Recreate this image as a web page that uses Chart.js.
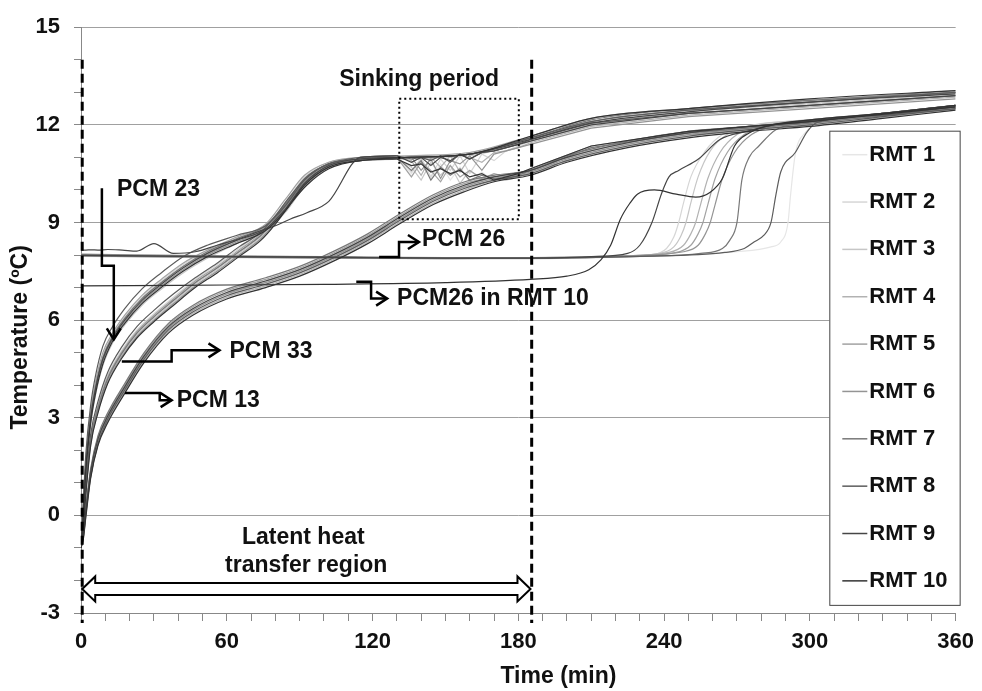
<!DOCTYPE html>
<html>
<head>
<meta charset="UTF-8">
<title>RMT temperature</title>
<style>
    body { margin: 0; background: #fff; }
    #wrap { width: 982px; height: 691px; position: relative; }
</style>
</head>
<body>
<div id="wrap"><canvas id="tempChart"></canvas></div>
<script src="https://cdn.jsdelivr.net/npm/chart.js"></script>
<script>
    const rmtNames = ['RMT 1', 'RMT 2', 'RMT 3', 'RMT 4', 'RMT 5', 'RMT 6', 'RMT 7', 'RMT 8', 'RMT 9', 'RMT 10'];

    // PCM 23 sensors (fastest melt)
    const pcm23Times = [0, 1, 2, 4, 6, 9, 13, 18, 25, 33, 42, 52, 64, 76, 84, 92, 102, 115, 135, 160, 185, 210, 250, 300, 360];
    const pcm23Temps = [
        [-1.0, 0.1, 1.4, 2.9, 3.8, 4.7, 5.4, 5.95, 6.55, 7.05, 7.55, 8.0, 8.4, 8.8, 9.4, 10.2, 10.75, 10.95, 11.0, 11.1, 11.6, 12.15, 12.5, 12.75, 13.05],
        [-1.0, 0.3, 1.6, 3.1, 4.0, 4.9, 5.55, 6.1, 6.7, 7.2, 7.7, 8.1, 8.5, 8.9, 9.6, 10.4, 10.85, 11.0, 11.05, 11.15, 11.55, 12.05, 12.4, 12.65, 12.95],
        [-1.0, 0.0, 1.3, 2.8, 3.7, 4.6, 5.3, 5.85, 6.45, 6.95, 7.45, 7.9, 8.35, 8.75, 9.3, 10.1, 10.7, 10.9, 10.95, 11.05, 11.5, 12.0, 12.4, 12.65, 12.95],
        [-1.0, 0.2, 1.5, 3.0, 3.95, 4.85, 5.5, 6.05, 6.65, 7.15, 7.65, 8.05, 8.45, 8.85, 9.5, 10.3, 10.8, 10.95, 11.0, 11.1, 11.6, 12.1, 12.45, 12.7, 13.0],
        [-1.0, 0.4, 1.7, 3.2, 4.1, 5.0, 5.6, 6.15, 6.75, 7.25, 7.75, 8.15, 8.55, 8.95, 9.7, 10.45, 10.85, 11.0, 11.05, 11.15, 11.65, 12.2, 12.5, 12.75, 13.05],
        [-1.0, 0.1, 1.45, 2.95, 3.85, 4.75, 5.4, 5.95, 6.55, 7.05, 7.55, 8.0, 8.4, 8.8, 9.45, 10.25, 10.75, 10.95, 11.0, 11.1, 11.55, 12.1, 12.45, 12.7, 13.0],
        [-1.0, 0.3, 1.55, 3.05, 3.95, 4.85, 5.5, 6.05, 6.65, 7.15, 7.65, 8.1, 8.5, 8.9, 9.55, 10.35, 10.8, 10.95, 11.0, 11.1, 11.6, 12.15, 12.5, 12.75, 13.0],
        [-1.0, 0.5, 1.9, 3.4, 4.3, 5.2, 5.8, 6.35, 6.95, 7.45, 7.95, 8.3, 8.6, 8.9, 9.5, 10.3, 10.8, 10.95, 11.0, 11.1, 11.6, 12.1, 12.45, 12.7, 13.0],
        [-1.0, 0.2, 1.5, 3.0, 3.9, 4.8, 5.45, 6.0, 6.6, 7.1, 7.6, 8.05, 8.45, 8.8, 9.4, 10.2, 10.75, 10.95, 11.0, 11.1, 11.55, 12.05, 12.4, 12.7, 12.95],
        [-1.0, 0.0, 1.35, 2.85, 3.75, 4.65, 5.35, 5.9, 6.5, 7.0, 7.5, 7.95, 8.35, 8.75, 9.35, 10.15, 10.7, 10.9, 11.0, 11.1, 11.65, 12.2, 12.5, 12.8, 13.05]
    ];

    // PCM 33 sensors, ragged through the sinking period (index 19 = 130 min)
    const pcm33Times = [0, 1, 2, 4, 7, 11, 17, 23, 30, 38, 47, 56, 65, 74, 80, 86, 93, 102, 115, 130, 136, 140, 144, 148, 152, 156, 160, 165, 170, 175, 180, 185, 210, 250, 300, 360];
    const pcm33Temps = [
        [-1.0, -0.3, 0.7, 2.2, 3.2, 4.1, 4.9, 5.5, 6.0, 6.5, 7.05, 7.5, 8.0, 8.5, 9.0, 9.6, 10.2, 10.7, 10.9, 11.0, 10.5, 10.95, 10.35, 10.8, 10.3, 10.7, 10.25, 10.55, 10.25, 10.4, 10.45, 10.6, 11.3, 11.75, 12.05, 12.5],
        [-1.0, -0.1, 0.9, 2.4, 3.4, 4.3, 5.1, 5.7, 6.2, 6.7, 7.25, 7.7, 8.2, 8.7, 9.2, 9.8, 10.4, 10.8, 11.0, 11.05, 10.55, 11.0, 10.4, 10.95, 10.6, 11.05, 10.5, 11.1, 10.9, 11.2, 11.35, 11.5, 12.0, 12.35, 12.6, 12.9],
        [-1.0, -0.25, 0.75, 2.25, 3.25, 4.15, 4.95, 5.55, 6.05, 6.55, 7.1, 7.55, 8.05, 8.55, 9.05, 9.65, 10.25, 10.7, 10.9, 10.95, 10.7, 10.3, 10.85, 10.45, 10.75, 10.2, 10.6, 10.3, 10.45, 10.3, 10.4, 10.55, 11.25, 11.7, 12.0, 12.45],
        [-1.0, -0.2, 0.8, 2.3, 3.3, 4.2, 5.0, 5.6, 6.1, 6.6, 7.15, 7.6, 8.1, 8.6, 9.1, 9.7, 10.3, 10.75, 10.95, 11.0, 10.9, 10.45, 11.0, 10.7, 11.05, 10.55, 11.0, 10.85, 11.15, 11.2, 11.3, 11.45, 11.95, 12.3, 12.55, 12.85],
        [-1.0, -0.15, 0.85, 2.35, 3.35, 4.25, 5.05, 5.65, 6.15, 6.65, 7.2, 7.65, 8.15, 8.65, 9.15, 9.75, 10.35, 10.75, 10.95, 11.0, 10.4, 10.85, 10.6, 10.25, 10.75, 10.4, 10.6, 10.35, 10.5, 10.4, 10.5, 10.65, 11.35, 11.8, 12.1, 12.5],
        [-1.0, -0.3, 0.7, 2.2, 3.2, 4.1, 4.9, 5.5, 6.0, 6.5, 7.05, 7.5, 8.0, 8.5, 9.0, 9.6, 10.2, 10.7, 10.9, 10.95, 11.0, 10.6, 10.95, 10.35, 10.9, 10.8, 11.05, 10.6, 11.1, 11.2, 11.3, 11.4, 11.9, 12.25, 12.5, 12.8],
        [-1.0, -0.2, 0.8, 2.3, 3.3, 4.2, 5.0, 5.6, 6.1, 6.6, 7.15, 7.6, 8.1, 8.6, 9.1, 9.7, 10.3, 10.75, 10.95, 11.0, 10.6, 10.9, 10.3, 10.7, 10.45, 10.65, 10.3, 10.45, 10.35, 10.35, 10.45, 10.6, 11.3, 11.75, 12.05, 12.5],
        [-1.0, 0.0, 1.0, 2.5, 3.5, 4.4, 5.2, 5.8, 6.3, 6.8, 7.3, 7.75, 8.25, 8.7, 9.2, 9.8, 10.4, 10.8, 11.0, 11.05, 10.95, 11.0, 10.9, 11.05, 10.85, 11.1, 10.95, 11.15, 11.2, 11.3, 11.4, 11.55, 12.05, 12.35, 12.6, 12.9],
        [8.15, 8.15, 8.15, 8.16, 8.15, 8.17, 8.15, 8.12, 8.35, 8.05, 8.1, 8.3, 8.5, 8.75, 8.9, 9.1, 9.3, 9.65, 11.0, 11.05, 10.85, 11.0, 10.75, 11.0, 10.9, 11.1, 10.95, 11.15, 11.2, 11.3, 11.4, 11.5, 12.0, 12.35, 12.6, 12.9],
        [-1.0, -0.35, 0.65, 2.15, 3.15, 4.05, 4.85, 5.45, 5.95, 6.45, 7.0, 7.45, 7.95, 8.45, 8.95, 9.55, 10.15, 10.65, 10.9, 10.95, 10.75, 10.8, 10.55, 10.65, 10.5, 10.6, 10.4, 10.5, 10.3, 10.4, 10.5, 10.65, 11.35, 11.8, 12.1, 12.55]
    ];
    const sinkStart = 19;

    // PCM 13 sensors (slowest)
    const pcm13Times = [0, 1, 2, 4, 7, 11, 18, 26, 36, 46, 60, 76, 90, 105, 118, 131, 145, 158, 170, 185, 200, 225, 250, 275, 300, 330, 360];
    const pcm13Temps = [
        [-1.0, -0.65, 0.05, 1.25, 2.25, 2.95, 3.85, 4.8, 5.7, 6.25, 6.75, 7.1, 7.45, 7.95, 8.45, 9.05, 9.65, 10.05, 10.3, 10.5, 10.9, 11.35, 11.65, 11.85, 12.0, 12.25, 12.5],
        [-1.0, -0.55, 0.15, 1.35, 2.35, 3.05, 3.95, 4.9, 5.8, 6.35, 6.85, 7.2, 7.55, 8.05, 8.55, 9.15, 9.75, 10.15, 10.4, 10.6, 11.0, 11.45, 11.75, 11.95, 12.1, 12.35, 12.6],
        [-1.0, -0.6, 0.1, 1.3, 2.3, 3.0, 3.9, 4.85, 5.75, 6.3, 6.8, 7.15, 7.5, 8.0, 8.5, 9.1, 9.7, 10.1, 10.35, 10.55, 10.95, 11.4, 11.7, 11.9, 12.05, 12.3, 12.55],
        [-1.0, -0.7, 0.0, 1.2, 2.2, 2.9, 3.8, 4.75, 5.65, 6.2, 6.7, 7.05, 7.4, 7.9, 8.4, 9.0, 9.6, 10.0, 10.3, 10.5, 10.9, 11.35, 11.65, 11.85, 12.0, 12.25, 12.5],
        [-1.0, -0.5, 0.2, 1.4, 2.4, 3.1, 4.0, 4.95, 5.85, 6.4, 6.9, 7.25, 7.6, 8.1, 8.6, 9.2, 9.8, 10.2, 10.4, 10.6, 11.0, 11.45, 11.75, 11.95, 12.1, 12.35, 12.6],
        [-1.0, -0.6, 0.1, 1.3, 2.3, 3.0, 3.9, 4.85, 5.75, 6.3, 6.8, 7.15, 7.5, 8.0, 8.5, 9.1, 9.7, 10.1, 10.35, 10.55, 10.95, 11.4, 11.7, 11.9, 12.05, 12.3, 12.55],
        [-1.0, -0.45, 0.25, 1.45, 2.45, 3.15, 4.05, 5.0, 5.9, 6.45, 6.95, 7.3, 7.65, 8.15, 8.65, 9.25, 9.85, 10.25, 10.45, 10.6, 11.05, 11.5, 11.8, 11.95, 12.1, 12.35, 12.6],
        [-1.0, -0.65, 0.05, 1.2, 2.2, 2.95, 3.85, 4.8, 5.7, 6.25, 6.75, 7.1, 7.45, 7.95, 8.45, 9.05, 9.65, 10.05, 10.3, 10.5, 10.9, 11.35, 11.65, 11.85, 12.0, 12.25, 12.5],
        [-1.0, -0.55, 0.15, 1.35, 2.35, 3.05, 3.95, 4.9, 5.8, 6.35, 6.85, 7.2, 7.55, 8.05, 8.55, 9.15, 9.75, 10.15, 10.4, 10.6, 11.0, 11.45, 11.75, 11.95, 12.1, 12.35, 12.6],
        [-1.0, -0.7, -0.05, 1.15, 2.15, 2.85, 3.75, 4.7, 5.6, 6.15, 6.65, 7.0, 7.35, 7.85, 8.35, 8.95, 9.55, 9.95, 10.25, 10.45, 10.85, 11.3, 11.6, 11.8, 11.95, 12.2, 12.45]
    ];

    // PCM 26 sensors: long plateau, late melt
    const pcm26Times = [
        [0, 40, 100, 150, 185, 230, 270, 284, 288, 291, 292, 294, 298, 306, 330, 360],
        [0, 40, 100, 150, 185, 215, 235, 241, 244, 246, 248, 251, 257, 264, 277, 300, 330, 360],
        [0, 40, 100, 150, 185, 215, 238, 244, 247, 249, 251, 254, 259, 266, 278, 300, 330, 360],
        [0, 40, 100, 150, 185, 220, 242, 248, 251, 253, 255, 258, 263, 270, 282, 300, 330, 360],
        [0, 40, 100, 150, 185, 220, 245, 251, 254, 256, 258, 261, 266, 273, 285, 300, 330, 360],
        [0, 40, 100, 150, 185, 225, 248, 254, 257, 259, 261, 264, 269, 276, 287, 300, 330, 360],
        [0, 40, 100, 150, 185, 230, 255, 264, 267, 270, 272, 275, 279, 286, 300, 330, 360],
        [0, 40, 100, 150, 185, 230, 265, 273, 277, 281, 284, 286, 288, 294, 299, 303, 330, 360],
        [0, 40, 100, 150, 185, 210, 225, 230, 235, 239, 242, 246, 254, 263, 274, 285, 310, 360],
        [0, 40, 100, 150, 185, 200, 209, 214, 218, 222, 226, 229, 236, 245, 253, 259, 264, 269, 275, 283, 300, 330, 360]
    ];
    const pcm26Temps = [
        [8.0, 7.97, 7.93, 7.9, 7.9, 7.95, 8.1, 8.25, 8.4, 9.0, 9.8, 11.1, 11.75, 12.05, 12.3, 12.6],
        [7.96, 7.93, 7.9, 7.88, 7.88, 7.93, 8.0, 8.2, 8.55, 9.0, 9.6, 10.4, 11.2, 11.7, 12.0, 12.15, 12.35, 12.6],
        [8.02, 7.98, 7.94, 7.9, 7.9, 7.95, 8.05, 8.25, 8.6, 9.0, 9.6, 10.4, 11.2, 11.7, 12.0, 12.15, 12.35, 12.55],
        [7.98, 7.95, 7.92, 7.9, 7.92, 7.97, 8.08, 8.3, 8.65, 9.0, 9.55, 10.35, 11.15, 11.7, 12.0, 12.15, 12.35, 12.6],
        [8.0, 7.96, 7.93, 7.9, 7.9, 7.96, 8.08, 8.3, 8.65, 9.0, 9.55, 10.35, 11.15, 11.7, 12.0, 12.15, 12.35, 12.6],
        [8.03, 7.99, 7.95, 7.92, 7.92, 7.98, 8.1, 8.3, 8.65, 9.0, 9.55, 10.35, 11.15, 11.7, 12.0, 12.15, 12.35, 12.55],
        [7.97, 7.94, 7.91, 7.89, 7.9, 7.96, 8.05, 8.2, 8.45, 9.0, 10.3, 11.0, 11.35, 11.85, 12.1, 12.35, 12.6],
        [8.0, 7.97, 7.94, 7.91, 7.91, 7.96, 8.08, 8.2, 8.4, 8.6, 9.0, 9.84, 10.55, 11.15, 11.8, 12.07, 12.3, 12.55],
        [7.99, 7.96, 7.93, 7.9, 7.9, 7.95, 8.05, 8.3, 9.0, 9.9, 10.4, 10.6, 10.94, 11.55, 11.8, 12.0, 12.2, 12.55],
        [7.05, 7.07, 7.1, 7.15, 7.25, 7.35, 7.55, 7.85, 8.3, 9.1, 9.6, 9.87, 10.0, 9.87, 9.78, 9.93, 10.35, 11.35, 11.75, 11.97, 12.15, 12.35, 12.6]
    ];

    const xTicks = [0, 60, 120, 180, 240, 300, 360];
    const yTicks = [-3, 0, 3, 6, 9, 12, 15];

    const rmtColors = ['#e6e6e6', '#d6d6d6', '#c6c6c6', '#b2b2b2', '#a2a2a2', '#949494', '#787878', '#5c5c5c', '#464646', '#333333'];
    const FONT = '"Liberation Sans", Arial, sans-serif';

    // start and end of the latent heat region
    const markerTimes = [0.5, 185.5];

    const callouts = [
        { text: 'PCM 23', at: [14.8, 10.02], path: [[8.6, 10.05], [8.6, 7.67], [13.5, 7.67], [13.5, 5.41]], head: 'down' },
        { text: 'PCM 33', at: [61.1, 5.04], path: [[16.8, 4.73], [37.3, 4.73], [37.3, 5.07], [57, 5.07]], head: 'right' },
        { text: 'PCM 13', at: [39.4, 3.51], path: [[18.1, 3.76], [32.4, 3.76], [32.4, 3.54], [37.3, 3.54]], head: 'right' },
        { text: 'PCM 26', at: [140.4, 8.46], path: [[122.7, 7.94], [130.9, 7.94], [130.9, 8.4], [139.1, 8.4]], head: 'right' },
        { text: 'PCM26 in RMT 10', at: [130.1, 6.66], path: [[113.3, 7.18], [119.4, 7.18], [119.4, 6.66], [126, 6.66]], head: 'right' }
    ];

    function toPoints(times, temps) {
        return times.map((t, i) => ({ x: t, y: temps[i] }));
    }

    const datasets = [];
    rmtNames.forEach((name, i) => {
        const line = (data, smooth) => ({
            label: name,
            data: data,
            showLine: true,
            borderColor: rmtColors[i],
            borderWidth: 1.2,
            pointRadius: 0,
            cubicInterpolationMode: smooth ? 'monotone' : 'default',
            tension: 0,
            order: 10 - i
        });
        const t33 = pcm33Times, v33 = pcm33Temps[i];
        datasets.push(line(toPoints(pcm23Times, pcm23Temps[i]), true));
        datasets.push(line(toPoints(t33.slice(0, sinkStart + 1), v33.slice(0, sinkStart + 1)), true));
        // the noisy part is drawn straight, point to point
        datasets.push(line(toPoints(t33.slice(sinkStart), v33.slice(sinkStart)), false));
        datasets.push(line(toPoints(pcm13Times, pcm13Temps[i]), true));
        datasets.push(line(toPoints(pcm26Times[i], pcm26Temps[i]), true));
    });

    const overlay = {
        id: 'overlay',
        afterDraw(chart) {
            const { ctx, chartArea: area, scales } = chart;
            const X = v => scales.x.getPixelForValue(v);
            const Y = v => scales.y.getPixelForValue(v);
            ctx.save();

            // dashed boundaries
            ctx.strokeStyle = '#000';
            ctx.lineWidth = 3;
            ctx.setLineDash([9, 5]);
            markerTimes.forEach(t => {
                ctx.beginPath();
                ctx.moveTo(X(t), Y(14));
                ctx.lineTo(X(t), area.bottom + 10);
                ctx.stroke();
            });

            // sinking period box
            ctx.lineWidth = 2;
            ctx.setLineDash([2, 3]);
            ctx.strokeRect(X(131), Y(12.8), X(180.2) - X(131), Y(9.1) - Y(12.8));
            ctx.setLineDash([]);

            ctx.fillStyle = '#111';
            ctx.font = 'bold 23px ' + FONT;
            ctx.textBaseline = 'middle';
            ctx.textAlign = 'left';
            ctx.fillText('Sinking period', X(106.3), Y(13.38));

            // callout arrows
            ctx.lineWidth = 2.5;
            ctx.lineJoin = 'miter';
            callouts.forEach(c => {
                ctx.beginPath();
                c.path.forEach(([t, v], k) => k ? ctx.lineTo(X(t), Y(v)) : ctx.moveTo(X(t), Y(v)));
                ctx.stroke();
                const [et, ev] = c.path[c.path.length - 1];
                const ex = X(et), ey = Y(ev);
                ctx.beginPath();
                if (c.head === 'down') {
                    ctx.moveTo(ex - 7, ey - 11); ctx.lineTo(ex, ey); ctx.lineTo(ex + 7, ey - 11);
                } else {
                    ctx.moveTo(ex - 11, ey - 7); ctx.lineTo(ex, ey); ctx.lineTo(ex - 11, ey + 7);
                }
                ctx.stroke();
                ctx.fillText(c.text, X(c.at[0]), Y(c.at[1]));
            });

            // latent heat region
            ctx.textAlign = 'center';
            ctx.fillText('Latent heat', X(91.5), Y(-0.67));
            ctx.fillText('transfer region', X(92.7), Y(-1.53));

            const xl = X(0.5), xr = X(185), yc = Y(-2.26);
            const sh = 6, hh = 12.5, hl = 13;
            ctx.beginPath();
            ctx.moveTo(xl, yc);
            ctx.lineTo(xl + hl, yc - hh);
            ctx.lineTo(xl + hl, yc - sh);
            ctx.lineTo(xr - hl, yc - sh);
            ctx.lineTo(xr - hl, yc - hh);
            ctx.lineTo(xr, yc);
            ctx.lineTo(xr - hl, yc + hh);
            ctx.lineTo(xr - hl, yc + sh);
            ctx.lineTo(xl + hl, yc + sh);
            ctx.lineTo(xl + hl, yc + hh);
            ctx.closePath();
            ctx.fillStyle = '#fff';
            ctx.fill();
            ctx.lineWidth = 2;
            ctx.strokeStyle = '#000';
            ctx.stroke();

            // axis titles
            ctx.fillStyle = '#111';
            ctx.fillText('Time (min)', X(196.5), area.bottom + 64);
            ctx.save();
            ctx.translate(area.left - 60, Y(5.47));
            ctx.rotate(-Math.PI / 2);
            ctx.fillText('Temperature (ºC)', 0, 0);
            ctx.restore();

            // legend
            const bl = X(308), br = area.right + 4, bt = Y(11.82), bb = Y(-2.75);
            ctx.fillStyle = '#fff';
            ctx.fillRect(bl, bt, br - bl, bb - bt);
            ctx.strokeStyle = '#444';
            ctx.lineWidth = 1;
            ctx.strokeRect(bl + 0.5, bt + 0.5, br - bl, bb - bt);
            ctx.font = 'bold 22px ' + FONT;
            ctx.textAlign = 'left';
            const step = (bb - bt - 48) / (rmtNames.length - 1);
            rmtNames.forEach((name, i) => {
                const ly = bt + 24 + i * step;
                ctx.strokeStyle = rmtColors[i];
                ctx.lineWidth = 1.5;
                ctx.beginPath();
                ctx.moveTo(bl + 13, ly);
                ctx.lineTo(bl + 38, ly);
                ctx.stroke();
                ctx.fillStyle = '#111';
                ctx.fillText(name, bl + 40, ly);
            });

            ctx.restore();
        }
    };

    Chart.defaults.font.family = FONT;

    new Chart(document.getElementById('tempChart'), {
        type: 'scatter',
        data: { datasets: datasets },
        options: {
            responsive: true,
            maintainAspectRatio: false,
            animation: false,
            events: [],
            layout: { padding: { top: 24, right: 24, left: 0, bottom: 0 } },
            plugins: {
                legend: { display: false },
                tooltip: { enabled: false }
            },
            scales: {
                x: {
                    type: 'linear',
                    min: 0,
                    max: 360,
                    afterFit: s => { s.height = 78; },
                    border: { color: '#888', width: 1 },
                    grid: { drawOnChartArea: false, drawTicks: true, tickLength: 8, tickColor: '#888' },
                    ticks: {
                        stepSize: 10,
                        autoSkip: false,
                        maxRotation: 0,
                        padding: 8,
                        color: '#111',
                        font: { size: 22, weight: 'bold' },
                        callback: v => xTicks.includes(v) ? v : ''
                    }
                },
                y: {
                    min: -3,
                    max: 15,
                    afterFit: s => { s.width = 81; },
                    border: { color: '#888', width: 1 },
                    grid: {
                        color: c => (c.tick && yTicks.includes(c.tick.value)) ? '#a0a0a0' : 'rgba(0,0,0,0)',
                        tickColor: '#888',
                        tickLength: 7
                    },
                    ticks: {
                        stepSize: 1,
                        autoSkip: false,
                        padding: 14,
                        color: '#111',
                        font: { size: 22, weight: 'bold' },
                        callback: v => yTicks.includes(v) ? v : ''
                    }
                }
            }
        },
        plugins: [overlay]
    });
</script>
</body>
</html>
